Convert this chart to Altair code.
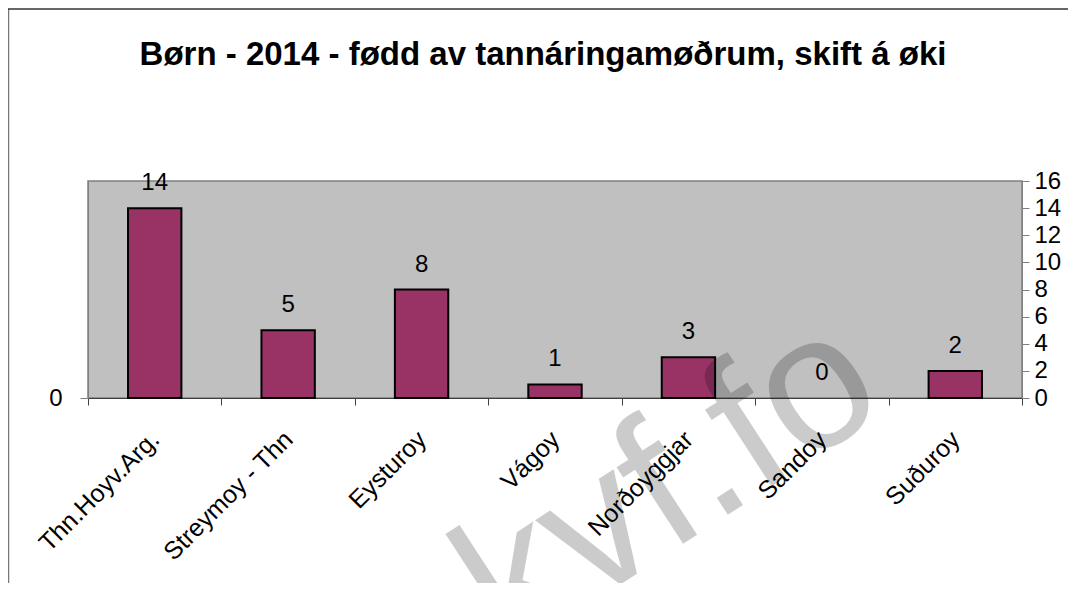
import altair as alt
import pandas as pd

regions = ["Thn.Hoyv.Arg.", "Streymoy - Thn", "Eysturoy", "Vágoy", "Norðoyggjar", "Sandoy", "Suðuroy"]
values = [14, 5, 8, 1, 3, 0, 2]
right_ticks = [0, 2, 4, 6, 8, 10, 12, 14, 16]
left_ticks = [0]
title_text = "Børn - 2014 - fødd av tannáringamøðrum, skift á øki"
watermark_text = "kvf.fo"

W, H = 934, 217
FONT = "Liberation Sans"

df = pd.DataFrame({"region": regions, "value": values})

x_enc = alt.X(
    "region:N",
    sort=regions,
    scale=alt.Scale(paddingInner=0, paddingOuter=0),
    axis=alt.Axis(
        title=None,
        labelAngle=315,
        labelAlign="right",
        labelBaseline="middle",
        labelFontSize=25,
        labelFont=FONT,
        labelColor="black",
        labelPadding=30,
        tickBand="extent",
        tickSize=7,
        tickColor="#404040",
        domainColor="#404040",
        labelOverlap=False,
    ),
)

y_scale = alt.Scale(domain=[0, 16], nice=False, zero=True)

base = alt.Chart(df)

bars = base.transform_filter("datum.value > 0").mark_bar(
    width={"band": 0.4}, color="#993366", stroke="black", strokeWidth=2
).encode(
    x=x_enc,
    y=alt.Y(
        "value:Q",
        scale=y_scale,
        axis=alt.Axis(
            orient="right",
            title=None,
            values=right_ticks,
            grid=False,
            tickSize=7,
            tickColor="#808080",
            domainColor="#808080",
            labelFontSize=24,
            labelFont=FONT,
            labelColor="black",
            labelPadding=5,
            labelOverlap=False,
            labelBaseline="middle",
        ),
    ),
)

labels = base.mark_text(
    fontSize=24, font=FONT, color="black", baseline="alphabetic", dy=-18
).encode(
    x=alt.X("region:N", sort=regions),
    y=alt.Y(
        "value:Q",
        scale=y_scale,
        axis=alt.Axis(
            orient="left",
            title=None,
            values=left_ticks,
            grid=False,
            tickSize=8,
            tickColor="#808080",
            domainColor="#808080",
            labelFontSize=24,
            labelFont=FONT,
            labelColor="black",
            labelPadding=18,
            labelBaseline="middle",
        ),
    ),
    text="value:Q",
)

one = alt.Chart(pd.DataFrame({"t": [watermark_text], "title": [title_text]}))

watermark = one.mark_text(
    fontSize=190, font=FONT, color="black", opacity=0.2, angle=327,
    align="center", baseline="middle"
).encode(x=alt.value(581), y=alt.value(304), text="t:N")

title = one.mark_text(
    fontSize=33, font=FONT, fontWeight="bold", color="black",
    align="center", baseline="alphabetic"
).encode(x=alt.value(455), y=alt.value(-116), text="title:N")

border_left = one.mark_rule(color="#777777", strokeWidth=1.5).encode(
    x=alt.value(-79.5), y=alt.value(-172), y2=alt.value(H + 190)
)
border_top = one.mark_rule(color="#333333", strokeWidth=1.5).encode(
    x=alt.value(-80), x2=alt.value(W + 50), y=alt.value(-172)
)

chart = (
    alt.layer(bars, labels, watermark, title, border_left, border_top)
    .resolve_axis(y="independent")
    .properties(
        width=W,
        height=H,
        autosize=alt.AutoSizeParams(type="none"),
        padding={"left": 80, "top": 173, "right": 46, "bottom": 185},
    )
    .configure_view(fill="#C0C0C0", stroke="#808080", strokeWidth=1.5)
    .configure_axis(labelFont=FONT)
)

chart.save("out.html", embed_options={"renderer": "svg", "actions": False})
